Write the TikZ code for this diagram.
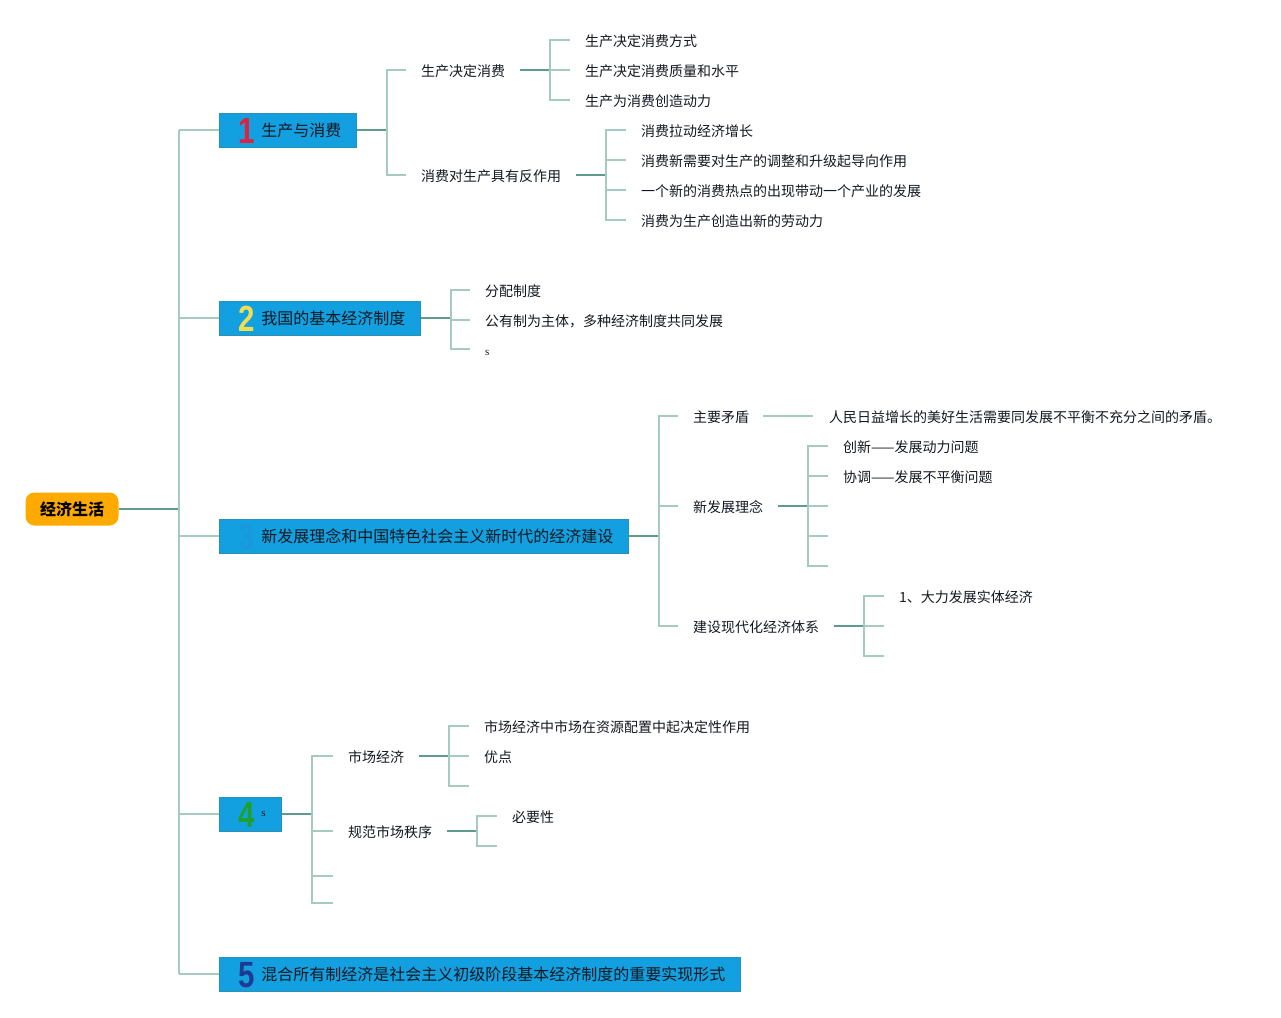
\documentclass[tikz,border=0pt]{standalone}
\usepackage{fontspec}
\usepackage{graphicx}
\newfontfamily\cjk{Noto Sans CJK SC}
\newfontfamily\numf{Liberation Sans}
\newfontfamily\serf{Liberation Serif}
\definecolor{boxblue}{HTML}{12A0E0}
\definecolor{boxedge}{HTML}{2A90B4}
\definecolor{rootor}{HTML}{FFAA00}
\definecolor{dkc}{HTML}{5E9B8E}
\definecolor{ltc}{HTML}{A5CBC0}
\definecolor{txt}{HTML}{141820}
\definecolor{nred}{HTML}{E0203C}
\definecolor{nyel}{HTML}{F2DC50}
\definecolor{nblu}{HTML}{1A98DC}
\definecolor{ngrn}{HTML}{1FA02A}
\definecolor{nnav}{HTML}{1F3A93}
\newcommand\bnum[2]{\makebox[23pt][l]{\smash{\raisebox{-7pt}{\scalebox{1.05}[1.3]{\color{#1}\numf\bfseries\fontsize{28}{28}\selectfont #2}}}}}
\begin{document}
\begin{tikzpicture}[x=1pt,y=-1pt,
  box/.style={draw=boxedge, fill=boxblue, line width=0.8pt, minimum height=34pt, inner xsep=0pt, inner ysep=0pt, anchor=west, text height=15.6pt, text depth=2.4pt, font=\cjk\fontsize{16}{16}\selectfont, text=txt},
  root/.style={fill=rootor, rounded corners=9pt, minimum width=93pt, minimum height=33pt, inner sep=0pt, text height=15.6pt, text depth=2.4pt, font=\cjk\bfseries\fontsize{16}{16}\selectfont, text=black},
  lbl/.style={anchor=west, inner sep=0pt, text height=14.1pt, text depth=2.1pt, font=\cjk\fontsize{14}{14}\selectfont, text=txt},
  dkl/.style={draw=dkc, line width=1.4pt},
  ltl/.style={draw=ltc, line width=1.4pt}]
\useasboundingbox (0,0) rectangle (1281,1017);

% root and main boxes
\node[root] (root) at (72,509) {经济生活};
\node[box] (b1) at (219,130) {\kern19pt\bnum{nred}{1}生产与消费\kern15pt};
\node[box] (b2) at (219,318) {\kern19pt\bnum{nyel}{2}我国的基本经济制度\kern15pt};
\node[box] (b3) at (219,536) {\kern19pt\bnum{nblu}{3}新发展理念和中国特色社会主义新时代的经济建设\kern15pt};
\node[box] (b4) at (219,814) {\kern19pt\bnum{ngrn}{4}\raisebox{4pt}{\serf\fontsize{11}{11}\selectfont s}\kern16pt};
\node[box] (b5) at (219,974) {\kern19pt\bnum{nnav}{5}混合所有制经济是社会主义初级阶段基本经济制度的重要实现形式\kern15pt};

% trunk
\coordinate (trunk) at (179,509);
\draw[dkl] (root.east) -- (trunk);
\draw[ltl] (trunk |- b1.west) -- (trunk |- b5.west);
\foreach \b in {b1,b2,b3,b4,b5} \draw[ltl] (trunk |- \b.west) -- (\b.west);

% ---- branch 1
\node[lbl] (t1a) at (421,70) {生产决定消费};
\node[lbl] (t1b) at (421,175) {消费对生产具有反作用};
\node[lbl] (t1a1) at (585,40) {生产决定消费方式};
\node[lbl] (t1a2) at (585,70) {生产决定消费质量和水平};
\node[lbl] (t1a3) at (585,100) {生产为消费创造动力};
\node[lbl] (t1b1) at (641,130) {消费拉动经济增长};
\node[lbl] (t1b2) at (641,160) {消费新需要对生产的调整和升级起导向作用};
\node[lbl] (t1b3) at (641,190) {一个新的消费热点的出现带动一个产业的发展};
\node[lbl] (t1b4) at (641,220) {消费为生产创造出新的劳动力};
\path ([xshift=30pt]b1.east) coordinate (j1);
\draw[dkl] (b1.east) -- (j1);
\draw[ltl] ([xshift=-15pt]t1a.west) -| (j1) |- ([xshift=-15pt]t1b.west);
\coordinate (j1a) at (550,70);
\draw[dkl] ([xshift=15pt]t1a.east) -- (j1a);
\draw[ltl] ([xshift=-15pt]t1a1.west) -| (j1a) |- ([xshift=-15pt]t1a3.west);
\draw[ltl] (j1a) -- ([xshift=-15pt]t1a2.west);
\coordinate (j1b) at (606,175);
\draw[dkl] ([xshift=15pt]t1b.east) -- (j1b);
\draw[ltl] ([xshift=-15pt]t1b1.west) -| (j1b) |- ([xshift=-15pt]t1b4.west);
\draw[ltl] (j1b |- t1b2.west) -- ([xshift=-15pt]t1b2.west);
\draw[ltl] (j1b |- t1b3.west) -- ([xshift=-15pt]t1b3.west);

% ---- branch 2
\node[lbl] (t2a) at (485,290) {分配制度};
\node[lbl] (t2b) at (485,320) {公有制为主体，多种经济制度共同发展};
\node[lbl, font=\serf\fontsize{11}{11}\selectfont] (t2c) at (485,349) {s};
\path ([xshift=30pt]b2.east) coordinate (j2);
\draw[dkl] (b2.east) -- (j2);
\draw[ltl] ([xshift=-15pt]t2a.west) -| (j2) |- ([xshift=-15pt]t2c.west);
\draw[ltl] (j2 |- t2b.west) -- ([xshift=-15pt]t2b.west);

% ---- branch 3
\node[lbl] (t3a) at (693,416) {主要矛盾};
\node[lbl] (t3a1) at (829,416) {人民日益增长的美好生活需要同发展不平衡不充分之间的矛盾。};
\node[lbl] (t3b) at (693,506) {新发展理念};
\node[lbl] (t3b1) at (843,446) {创新——发展动力问题};
\node[lbl] (t3b2) at (843,476) {协调——发展不平衡问题};
\node[lbl] (t3c) at (693,626) {建设现代化经济体系};
\node[lbl] (t3c1) at (899,596) {1、大力发展实体经济};
\path ([xshift=30pt]b3.east) coordinate (j3);
\draw[dkl] (b3.east) -- (j3);
\draw[ltl] ([xshift=-15pt]t3a.west) -| (j3) |- ([xshift=-15pt]t3c.west);
\draw[ltl] (j3 |- t3b.west) -- ([xshift=-15pt]t3b.west);
\draw[ltl] ([xshift=14pt]t3a.east) -- ([xshift=-16pt]t3a1.west);
\coordinate (j3b) at (808,506);
\coordinate (e3b3) at (828,506);
\coordinate (e3b4) at (828,536);
\coordinate (e3b5) at (828,566);
\draw[dkl] ([xshift=15pt]t3b.east) -- (j3b);
\draw[ltl] ([xshift=-15pt]t3b1.west) -| (j3b) |- (e3b5);
\draw[ltl] (j3b |- t3b2.west) -- ([xshift=-15pt]t3b2.west);
\draw[ltl] (j3b) -- (e3b3);
\draw[ltl] (j3b |- e3b4) -- (e3b4);
\coordinate (j3c) at (864,626);
\coordinate (e3c2) at (884,626);
\coordinate (e3c3) at (884,656);
\draw[dkl] ([xshift=15pt]t3c.east) -- (j3c);
\draw[ltl] ([xshift=-15pt]t3c1.west) -| (j3c) |- (e3c3);
\draw[ltl] (j3c) -- (e3c2);

% ---- branch 4
\node[lbl] (t4a) at (348,756) {市场经济};
\node[lbl] (t4a1) at (484,726) {市场经济中市场在资源配置中起决定性作用};
\node[lbl] (t4a2) at (484,756) {优点};
\node[lbl] (t4b) at (348,831) {规范市场秩序};
\node[lbl] (t4b1) at (512,816) {必要性};
\path ([xshift=30pt]b4.east) coordinate (j4);
\coordinate (e4c) at (333,876);
\coordinate (e4d) at (333,903);
\draw[dkl] (b4.east) -- (j4);
\draw[ltl] ([xshift=-15pt]t4a.west) -| (j4) |- (e4d);
\draw[ltl] (j4 |- t4b.west) -- ([xshift=-15pt]t4b.west);
\draw[ltl] (j4 |- e4c) -- (e4c);
\coordinate (j4a) at (449,756);
\coordinate (e4a3) at (469,786);
\draw[dkl] ([xshift=15pt]t4a.east) -- (j4a);
\draw[ltl] ([xshift=-15pt]t4a1.west) -| (j4a) |- (e4a3);
\draw[ltl] (j4a) -- ([xshift=-15pt]t4a2.west);
\coordinate (j4b) at (477,831);
\coordinate (e4b2) at (497,846);
\draw[dkl] ([xshift=15pt]t4b.east) -- (j4b);
\draw[ltl] ([xshift=-15pt]t4b1.west) -| (j4b) |- (e4b2);
\end{tikzpicture}
\end{document}
